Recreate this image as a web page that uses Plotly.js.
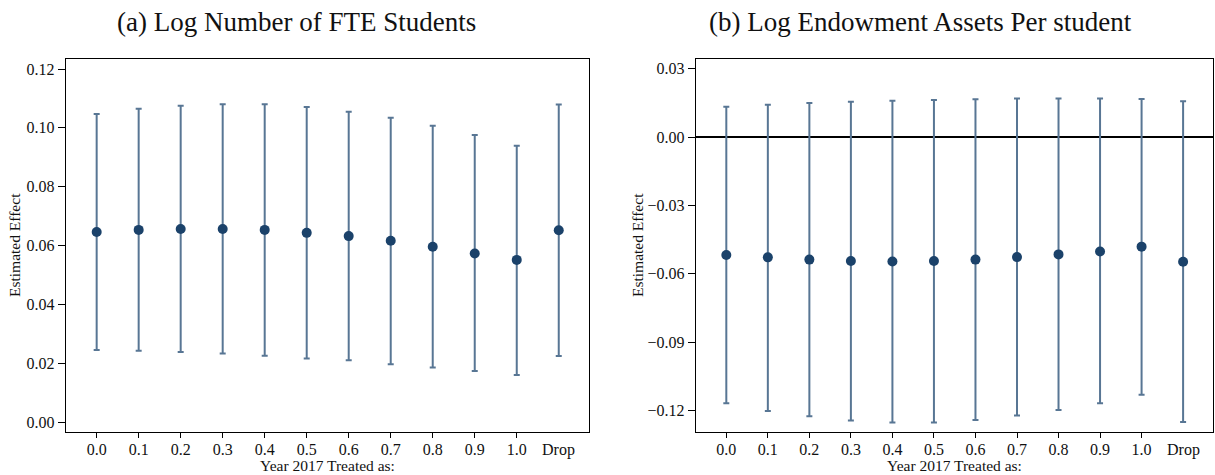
<!DOCTYPE html>
<html>
<head>
<meta charset="utf-8">
<script src="https://cdn.plot.ly/plotly-3.0.1.min.js"></script>
<style>html,body{margin:0;padding:0;background:#fff;}#chart{width:1215px;height:475px;}</style>
</head>
<body>
<div id="chart"></div>
<script>
// Categories (how year 2017 is treated)
const categories = ['0.0','0.1','0.2','0.3','0.4','0.5','0.6','0.7','0.8','0.9','1.0','Drop'];

// Panel (a): Log Number of FTE Students
const fteEst   = [0.0646,0.0653,0.0656,0.0656,0.0653,0.0643,0.0632,0.0616,0.0596,0.0573,0.0551,0.0652];
const fteUpper = [0.1047,0.1065,0.1075,0.1080,0.1080,0.1071,0.1055,0.1034,0.1007,0.0976,0.0939,0.1079];
const fteLower = [0.0245,0.0242,0.0238,0.0233,0.0225,0.0216,0.0210,0.0196,0.0185,0.0173,0.0160,0.0224];

// Panel (b): Log Endowment Assets Per student
const endEst   = [-0.0518,-0.0528,-0.0538,-0.0544,-0.0546,-0.0544,-0.0538,-0.0527,-0.0515,-0.0502,-0.0481,-0.0547];
const endUpper = [0.0133,0.0142,0.0150,0.0155,0.0160,0.0163,0.0166,0.0169,0.0169,0.0169,0.0167,0.0157];
const endLower = [-0.1169,-0.1203,-0.1226,-0.1245,-0.1253,-0.1253,-0.1242,-0.1223,-0.1198,-0.1169,-0.1131,-0.1251];

// Tick labels
const fteTicks = [0.00,0.02,0.04,0.06,0.08,0.10,0.12];
const endTicks = [-0.12,-0.09,-0.06,-0.03,0.00,0.03];

const xIdx = categories.map((c,i)=>i);
const tickCats = categories.filter(c=>c!=='Drop');
const tickIdx = tickCats.map(c=>categories.indexOf(c));
const dropIdx = categories.indexOf('Drop');

const FONT = 'Liberation Serif, Times New Roman, serif';
const errColor = 'rgb(88,118,148)';
const dotColor = 'rgb(27,66,106)';

function trace(est, up, lo, xa, ya){
  return {
    type:'scatter', mode:'markers', x:xIdx, y:est, xaxis:xa, yaxis:ya,
    marker:{color:dotColor, size:10},
    error_y:{type:'data', symmetric:false,
      array: up.map((u,i)=>u-est[i]),
      arrayminus: lo.map((l,i)=>est[i]-l),
      color:errColor, thickness:2, width:3},
    showlegend:false, hoverinfo:'skip'
  };
}

const xBase = {
  range:[-0.73,11.72], tickmode:'array', tickvals:tickIdx, ticktext:tickCats,
  ticks:'outside', ticklen:5, tickwidth:1, tickcolor:'#000',
  showline:true, linecolor:'#000', linewidth:1.3, mirror:true,
  showgrid:false, zeroline:false, ticklabelstandoff:-3,
  tickfont:{family:FONT, size:16, color:'#111'}
};
const yBase = {
  ticks:'outside', ticklen:7, tickwidth:1, tickcolor:'#000',
  showline:true, linecolor:'#000', linewidth:1.3, mirror:true,
  showgrid:false, tickmode:'array', tickformat:'.2f',
  tickfont:{family:FONT, size:16, color:'#111'}
};

const layout = {
  width:1215, height:475,
  margin:{l:0,r:0,t:0,b:0},
  paper_bgcolor:'#fff', plot_bgcolor:'#fff',
  xaxis: Object.assign({}, xBase, {domain:[66/1215, 589/1215], anchor:'y'}),
  yaxis: Object.assign({}, yBase, {domain:[1-432/475, 1-59/475], anchor:'x',
          range:[-0.0034,0.1234], tickvals:fteTicks, zeroline:false}),
  xaxis2: Object.assign({}, xBase, {domain:[696/1215, 1213/1215], anchor:'y2'}),
  yaxis2: Object.assign({}, yBase, {domain:[1-432/475, 1-59/475], anchor:'x2',
          range:[-0.1295,0.0343], tickvals:endTicks,
          zeroline:true, zerolinecolor:'#000', zerolinewidth:1.3}),
  annotations:[
    {text:'(a) Log Number of FTE Students', xref:'paper', yref:'paper', x:296/1215, y:1-22/475,
     xanchor:'center', yanchor:'middle', showarrow:false, font:{family:FONT, size:27, color:'#111'}},
    {text:'(b) Log Endowment Assets Per student', xref:'paper', yref:'paper', x:921/1215, y:1-22/475,
     xanchor:'center', yanchor:'middle', showarrow:false, font:{family:FONT, size:27, color:'#111'}},
    {text:'Estimated Effect', xref:'paper', yref:'paper', x:14/1215, y:1-245/475, textangle:-90,
     xanchor:'center', yanchor:'middle', showarrow:false, font:{family:FONT, size:15.5, color:'#111'}},
    {text:'Estimated Effect', xref:'paper', yref:'paper', x:637/1215, y:1-245/475, textangle:-90,
     xanchor:'center', yanchor:'middle', showarrow:false, font:{family:FONT, size:15.5, color:'#111'}},
    {text:'Year 2017 Treated as:', xref:'paper', yref:'paper', x:327.5/1215, y:1-465/475,
     xanchor:'center', yanchor:'middle', showarrow:false, font:{family:FONT, size:15.5, color:'#111'}},
    {text:'Year 2017 Treated as:', xref:'paper', yref:'paper', x:954.5/1215, y:1-465/475,
     xanchor:'center', yanchor:'middle', showarrow:false, font:{family:FONT, size:15.5, color:'#111'}},
    {text:categories[dropIdx], xref:'x', yref:'paper', x:dropIdx, y:1-450/475,
     xanchor:'center', yanchor:'middle', showarrow:false, font:{family:FONT, size:16, color:'#111'}},
    {text:categories[dropIdx], xref:'x2', yref:'paper', x:dropIdx, y:1-450/475,
     xanchor:'center', yanchor:'middle', showarrow:false, font:{family:FONT, size:16, color:'#111'}}
  ]
};

Plotly.newPlot('chart', [trace(fteEst,fteUpper,fteLower,'x','y'), trace(endEst,endUpper,endLower,'x2','y2')], layout, {staticPlot:true, displayModeBar:false});
</script>
</body>
</html>
